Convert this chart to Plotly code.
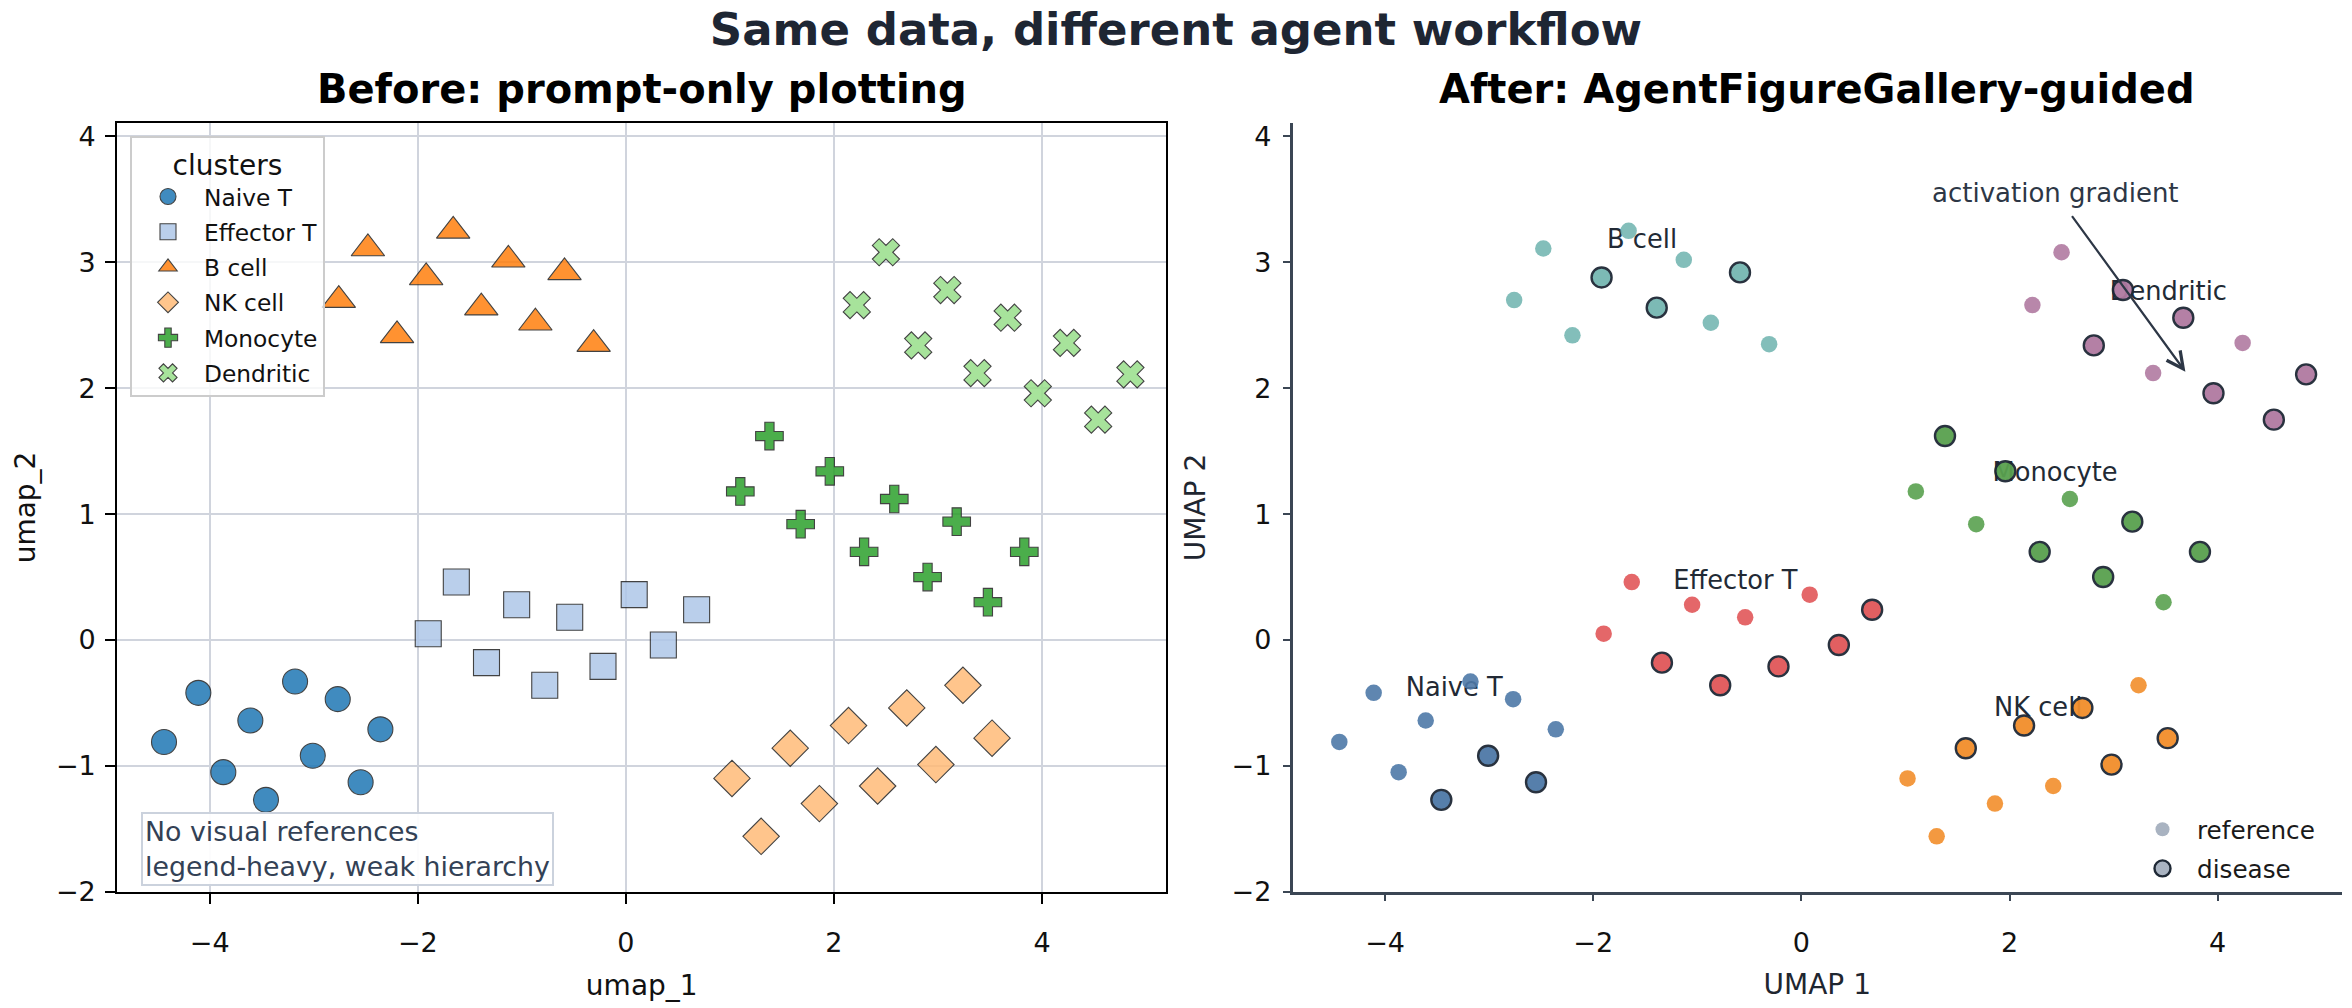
import plotly.graph_objects as go

# ---------------- data ----------------
clusters = ["Naive T", "Effector T", "B cell", "NK cell", "Monocyte", "Dendritic"]

naive_x = [-4.44, -4.11, -3.87, -3.61, -3.46, -3.18, -3.01, -2.77, -2.55, -2.36]
naive_y = [-0.81, -0.42, -1.05, -0.64, -1.27, -0.33, -0.92, -0.47, -1.13, -0.71]
naive_dis = [0, 0, 0, 0, 1, 0, 1, 0, 1, 0]

effector_x = [-1.90, -1.63, -1.34, -1.05, -0.78, -0.54, -0.22, 0.08, 0.36, 0.68]
effector_y = [0.05, 0.46, -0.18, 0.28, -0.36, 0.18, -0.21, 0.36, -0.04, 0.24]
effector_dis = [0, 0, 1, 0, 1, 0, 1, 0, 1, 1]

bcell_x = [-2.76, -2.48, -2.20, -1.92, -1.66, -1.39, -1.13, -0.87, -0.59, -0.31]
bcell_y = [2.70, 3.11, 2.42, 2.88, 3.25, 2.64, 3.02, 2.52, 2.92, 2.35]
bcell_dis = [0, 0, 0, 1, 0, 1, 0, 0, 1, 0]

nk_x = [1.02, 1.30, 1.58, 1.86, 2.14, 2.42, 2.70, 2.98, 3.24, 3.52]
nk_y = [-1.10, -1.56, -0.86, -1.30, -0.68, -1.16, -0.54, -0.99, -0.36, -0.78]
nk_dis = [0, 0, 1, 0, 1, 0, 1, 1, 0, 1]

mono_x = [1.10, 1.38, 1.68, 1.96, 2.29, 2.58, 2.90, 3.18, 3.48, 3.83]
mono_y = [1.18, 1.62, 0.92, 1.34, 0.70, 1.12, 0.50, 0.94, 0.30, 0.70]
mono_dis = [0, 1, 0, 1, 1, 0, 1, 1, 0, 1]

dend_x = [2.22, 2.50, 2.81, 3.09, 3.38, 3.67, 3.96, 4.24, 4.54, 4.85]
dend_y = [2.66, 3.08, 2.34, 2.78, 2.12, 2.56, 1.96, 2.36, 1.75, 2.11]
dend_dis = [0, 0, 1, 1, 0, 1, 1, 0, 1, 1]

x_ticks = [-4, -2, 0, 2, 4]
y_ticks = [-2, -1, 0, 1, 2, 3, 4]
x_range = [-4.89, 5.195]
y_range = [-2.0, 4.105]

label_offset_y = 0.38
arrow_text_xy = [2.44, 3.55]
arrow_head_xy = [3.69, 2.13]

# ---------------- styles ----------------
cluster_data = {
    "Naive T": (naive_x, naive_y, naive_dis),
    "Effector T": (effector_x, effector_y, effector_dis),
    "B cell": (bcell_x, bcell_y, bcell_dis),
    "NK cell": (nk_x, nk_y, nk_dis),
    "Monocyte": (mono_x, mono_y, mono_dis),
    "Dendritic": (dend_x, dend_y, dend_dis),
}
left_colors = {"Naive T": "#1f77b4", "Effector T": "#aec7e8", "B cell": "#ff7f0e",
               "NK cell": "#ffbb78", "Monocyte": "#2ca02c", "Dendritic": "#98df8a"}
left_symbols = {"Naive T": "circle", "Effector T": "square", "B cell": "triangle-up",
                "NK cell": "diamond", "Monocyte": "cross", "Dendritic": "x"}
left_sizes = {"Naive T": 25, "Effector T": 26, "B cell": 29, "NK cell": 28,
              "Monocyte": 23, "Dendritic": 24}
right_colors = {"Naive T": "#4e79a7", "Effector T": "#e15759", "B cell": "#76b7b2",
                "NK cell": "#f28e2b", "Monocyte": "#59a14f", "Dendritic": "#b07aa1"}

FONT = "DejaVu Sans"
W, H = 2352, 1008
ydom = [1 - 905 / H, 1 - 123.3 / H]
xdom1 = [117.2 / W, 1166.3 / W]
xdom2 = [1292.5 / W, 2342.0 / W]
slate = "#3b4654"
edge_dark = "#1e2835"

fig = go.Figure()

# ---------------- left panel ----------------
for i, name in enumerate(clusters):
    xs, ys, _ = cluster_data[name]
    fig.add_trace(go.Scatter(
        x=xs, y=ys, mode="markers", name=name, xaxis="x", yaxis="y",
        legend="legend", legendgroup=name,
        marker=dict(symbol=left_symbols[name], size=left_sizes[name],
                    color=left_colors[name], opacity=0.85,
                    line=dict(color="#222222", width=1.1)),
    ))

# ---------------- right panel ----------------
lab_x, lab_y = [], []
for name in clusters:
    xs, ys, _ = cluster_data[name]
    lab_x.append(sum(xs) / len(xs))
    lab_y.append(sum(ys) / len(ys) + label_offset_y)
fig.add_trace(go.Scatter(
    x=lab_x, y=lab_y, mode="text", text=clusters, textposition="middle center",
    textfont=dict(family=FONT, size=25.7, color="#222a35"),
    xaxis="x2", yaxis="y2", showlegend=False, hoverinfo="skip"))

for name in clusters:
    xs, ys, dis = cluster_data[name]
    rx = [x for x, d in zip(xs, dis) if not d]
    ry = [y for y, d in zip(ys, dis) if not d]
    fig.add_trace(go.Scatter(
        x=rx, y=ry, mode="markers", xaxis="x2", yaxis="y2", showlegend=False,
        marker=dict(symbol="circle", size=16.5, color=right_colors[name], opacity=0.9,
                    line=dict(width=0))))
for name in clusters:
    xs, ys, dis = cluster_data[name]
    dx = [x for x, d in zip(xs, dis) if d]
    dy = [y for y, d in zip(ys, dis) if d]
    fig.add_trace(go.Scatter(
        x=dx, y=dy, mode="markers", xaxis="x2", yaxis="y2", showlegend=False,
        marker=dict(symbol="circle", size=20, color=right_colors[name], opacity=0.95,
                    line=dict(width=2.4, color=edge_dark))))

# right legend entries
fig.add_trace(go.Scatter(
    x=[None], y=[None], mode="markers", name="reference", xaxis="x2", yaxis="y2",
    legend="legend2", legendgroup="reference",
    marker=dict(symbol="circle", size=14, color="#a9b3c1", line=dict(width=0))))
fig.add_trace(go.Scatter(
    x=[None], y=[None], mode="markers", name="disease", xaxis="x2", yaxis="y2",
    legend="legend2", legendgroup="disease",
    marker=dict(symbol="circle", size=16, color="#a9b3c1", line=dict(width=2.4, color=edge_dark))))

fig.update_layout(
    width=W, height=H, margin=dict(l=0, r=0, t=0, b=0),
    paper_bgcolor="white", plot_bgcolor="white",
    font=dict(family=FONT, color="#111111"),
    title=dict(text="<b>Same data, different agent workflow</b>", x=0.5, xanchor="center",
               y=1 - 29 / H, yanchor="middle",
               font=dict(family=FONT, size=45, color="#1e2633")),
    xaxis=dict(domain=xdom1, range=x_range, tickvals=x_ticks, anchor="y",
               ticks="outside", ticklen=10, tickwidth=2, tickcolor="black",
               showline=True, linecolor="black", linewidth=2, mirror=True,
               showgrid=True, gridcolor="#d0d4dd", gridwidth=2, zeroline=False,
               tickfont=dict(family=FONT, size=27, color="#111111"), ticklabelstandoff=16,
               title=dict(text="umap_1", font=dict(family=FONT, size=28, color="#111111"), standoff=18)),
    yaxis=dict(domain=ydom, range=y_range, tickvals=y_ticks, anchor="x",
               ticks="outside", ticklen=10, tickwidth=2, tickcolor="black",
               showline=True, linecolor="black", linewidth=2, mirror=True,
               showgrid=True, gridcolor="#d0d4dd", gridwidth=2, zeroline=False,
               tickfont=dict(family=FONT, size=27, color="#111111"), ticklabelstandoff=4,
               title=dict(text="umap_2", font=dict(family=FONT, size=28, color="#111111"), standoff=12)),
    xaxis2=dict(domain=xdom2, range=x_range, tickvals=x_ticks, anchor="y2",
                ticks="outside", ticklen=7, tickwidth=2, tickcolor=slate,
                showline=True, linecolor=slate, linewidth=2.5, mirror=False,
                showgrid=False, zeroline=False,
                tickfont=dict(family=FONT, size=27, color="#111111"), ticklabelstandoff=18,
                title=dict(text="UMAP 1", font=dict(family=FONT, size=28, color="#1f2630"), standoff=18)),
    yaxis2=dict(domain=ydom, range=y_range, tickvals=y_ticks, anchor="x2",
                ticks="outside", ticklen=7, tickwidth=2, tickcolor=slate,
                showline=True, linecolor=slate, linewidth=2.5, mirror=False,
                showgrid=False, zeroline=False,
                tickfont=dict(family=FONT, size=27, color="#111111"), ticklabelstandoff=6,
                title=dict(text="UMAP 2", font=dict(family=FONT, size=28, color="#1f2630"), standoff=18)),
    legend=dict(x=130 / W, y=1 - 136.7 / H, xanchor="left", yanchor="top",
                bgcolor="rgba(255,255,255,0.8)", bordercolor="#cccccc", borderwidth=2,
                font=dict(family=FONT, size=23.3, color="#111111"),
                title=dict(text="clusters", side="top center", font=dict(family=FONT, size=28, color="#111111")),
                tracegroupgap=2, itemwidth=62),
    legend2=dict(x=2128 / W, y=1 - 905 / H, xanchor="left", yanchor="bottom",
                 bgcolor="rgba(0,0,0,0)", borderwidth=0,
                 font=dict(family=FONT, size=24.7, color="#1a1a1a"),
                 tracegroupgap=4, itemwidth=59),
    showlegend=True,
)

annotations = [
    dict(text="<b>Before: prompt-only plotting</b>", xref="paper", yref="paper",
         x=(xdom1[0] + xdom1[1]) / 2, y=1 - 89 / H, xanchor="center", yanchor="middle",
         showarrow=False, font=dict(family=FONT, size=40, color="#000000")),
    dict(text="<b>After: AgentFigureGallery-guided</b>", xref="paper", yref="paper",
         x=(xdom2[0] + xdom2[1]) / 2, y=1 - 89 / H, xanchor="center", yanchor="middle",
         showarrow=False, font=dict(family=FONT, size=40, color="#000000")),
    dict(text="No visual references<br>legend-heavy, weak hierarchy", xref="x domain", yref="y domain",
         x=0.023, y=0.008, xanchor="left", yanchor="bottom", align="left", showarrow=False,
         font=dict(family=FONT, size=26.8, color="#334155"), bgcolor="rgba(255,255,255,0.92)",
         bordercolor="#cbd2dd", borderwidth=2, borderpad=2),
    dict(text="activation gradient", xref="x2", yref="y2",
         x=arrow_head_xy[0], y=arrow_head_xy[1], ax=arrow_text_xy[0], ay=arrow_text_xy[1],
         axref="x2", ayref="y2", showarrow=True, arrowhead=5, arrowsize=1.5, arrowwidth=2.2,
         arrowcolor="#2d3746", standoff=0, startstandoff=8,
         font=dict(family=FONT, size=26, color="#2d3746")),
]
fig.update_layout(annotations=annotations)

fig.write_html("out.html")
